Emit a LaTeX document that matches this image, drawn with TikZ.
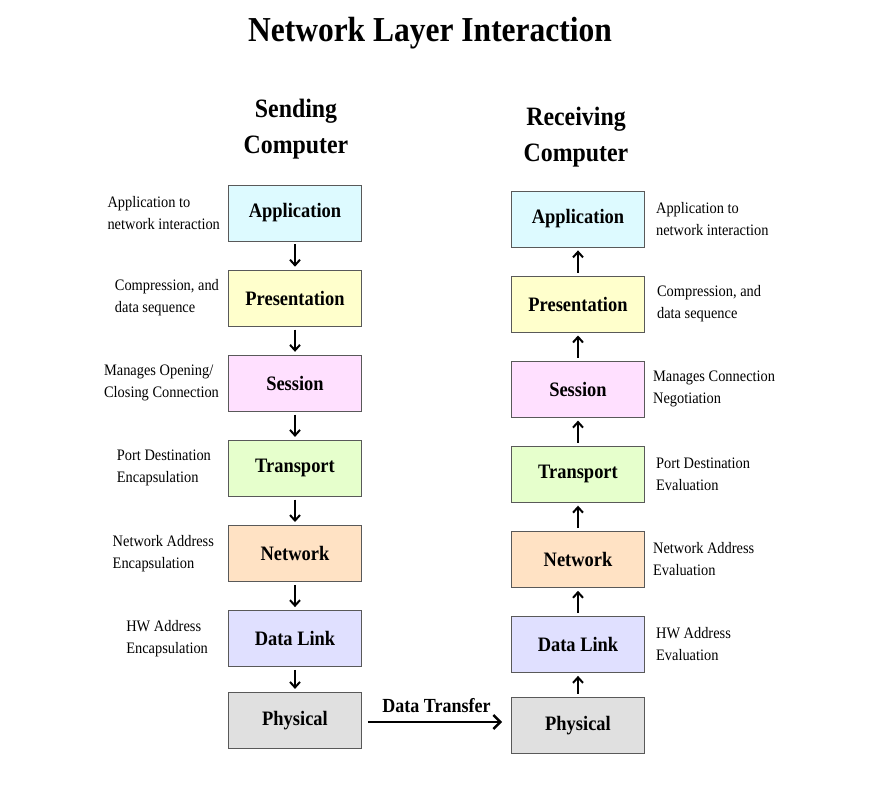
\documentclass[tikz,border=0pt]{standalone}
\usepackage{fontspec}
\setmainfont[FakeStretch=0.9]{Liberation Serif}
\usetikzlibrary{positioning, arrows.meta}

\definecolor{appFill}{HTML}{DDFAFF}
\definecolor{presFill}{HTML}{FFFFCC}
\definecolor{sessFill}{HTML}{FFE0FF}
\definecolor{transFill}{HTML}{E6FFCC}
\definecolor{netFill}{HTML}{FFE2C4}
\definecolor{linkFill}{HTML}{E0E0FF}
\definecolor{physFill}{HTML}{E0E0E0}

\begin{document}
\begin{tikzpicture}[
  x=1pt,
  y=-1pt,
  layerbox/.style={
    draw=black!65,
    line width=0.8pt,
    rectangle,
    minimum width=133pt,
    minimum height=56pt,
    font=\fontsize{20.5}{24}\selectfont\bfseries
  },
  notetext/.style={
    align=left,
    inner sep=0pt,
    font=\fontsize{16}{22}\selectfont
  },
  headtext/.style={
    align=center,
    font=\fontsize{26.5}{36}\selectfont\bfseries
  },
  flow/.style={
    -{Straight Barb[length=5.5pt, width=10pt]},
    line width=2pt,
    shorten >=3pt,
    shorten <=3pt
  },
  node distance=28.3pt
]

\useasboundingbox[fill=white] (0,0) rectangle (877,800);

% Title
\node[font=\fontsize{35}{40}\selectfont\bfseries] (Title) at (430,33) {Network Layer Interaction};
\node[headtext] (SendHead) at (296,129) {Sending\\Computer};
\node[headtext] (RecvHead) at (576,137) {Receiving\\Computer};

% Sending computer
\node[layerbox, fill=appFill] (SendApplication) at (295,213) {Application};
\node[layerbox, fill=presFill, below=of SendApplication] (SendPresentation) {Presentation};
\node[layerbox, fill=sessFill, below=of SendPresentation] (SendSession) {Session};
\node[layerbox, fill=transFill, below=of SendSession] (SendTransport) {Transport};
\node[layerbox, fill=netFill, below=of SendTransport] (SendNetwork) {Network};
\node[layerbox, fill=linkFill, below=of SendNetwork] (SendDataLink) {Data Link};
\node[layerbox, fill=physFill, below=25pt of SendDataLink] (SendPhysical) {Physical};

% Receiving computer
\node[layerbox, fill=appFill] (RecvApplication) at (578,219) {Application};
\node[layerbox, fill=presFill, below=of RecvApplication] (RecvPresentation) {Presentation};
\node[layerbox, fill=sessFill, below=of RecvPresentation] (RecvSession) {Session};
\node[layerbox, fill=transFill, below=of RecvSession] (RecvTransport) {Transport};
\node[layerbox, fill=netFill, below=of RecvTransport] (RecvNetwork) {Network};
\node[layerbox, fill=linkFill, below=of RecvNetwork] (RecvDataLink) {Data Link};
\node[layerbox, fill=physFill, below=24pt of RecvDataLink] (RecvPhysical) {Physical};

% Notes, sending side
\node[notetext, left=8pt of SendApplication] (SendAppNote) {Application to\\network interaction};
\node[notetext, left=9pt of SendPresentation] (SendPresNote) {Compression, and\\data sequence};
\node[notetext, left=9pt of SendSession] (SendSessNote) {Manages Opening/\\Closing Connection};
\node[notetext, left=17pt of SendTransport] (SendTransNote) {Port Destination\\Encapsulation};
\node[notetext, left=14pt of SendNetwork] (SendNetNote) {Network Address\\Encapsulation};
\node[notetext, left=20pt of SendDataLink] (SendLinkNote) {HW Address\\Encapsulation};

% Notes, receiving side
\node[notetext, right=11pt of RecvApplication] (RecvAppNote) {Application to\\network interaction};
\node[notetext, right=12pt of RecvPresentation] (RecvPresNote) {Compression, and\\data sequence};
\node[notetext, right=8pt of RecvSession] (RecvSessNote) {Manages Connection\\Negotiation};
\node[notetext, right=11pt of RecvTransport] (RecvTransNote) {Port Destination\\Evaluation};
\node[notetext, right=8pt of RecvNetwork] (RecvNetNote) {Network Address\\Evaluation};
\node[notetext, right=11pt of RecvDataLink] (RecvLinkNote) {HW Address\\Evaluation};

% Down the stack
\draw[flow] (SendApplication) -- (SendPresentation);
\draw[flow] (SendPresentation) -- (SendSession);
\draw[flow] (SendSession) -- (SendTransport);
\draw[flow] (SendTransport) -- (SendNetwork);
\draw[flow] (SendNetwork) -- (SendDataLink);
\draw[flow] (SendDataLink) -- (SendPhysical);

% Up the stack
\draw[flow] (RecvPhysical) -- (RecvDataLink);
\draw[flow] (RecvDataLink) -- (RecvNetwork);
\draw[flow] (RecvNetwork) -- (RecvTransport);
\draw[flow] (RecvTransport) -- (RecvSession);
\draw[flow] (RecvSession) -- (RecvPresentation);
\draw[flow] (RecvPresentation) -- (RecvApplication);

% Transfer
\draw[-{Straight Barb[length=7pt, width=14pt]}, line width=2.4pt, shorten <=6pt, shorten >=9pt]
  (SendPhysical.east |- 0,722) coordinate (TransferStart) -- (RecvPhysical.west |- 0,722)
  node[midway, above=5pt, font=\fontsize{20}{24}\selectfont\bfseries] (TransferLabel) {Data Transfer};

\end{tikzpicture}
\end{document}
